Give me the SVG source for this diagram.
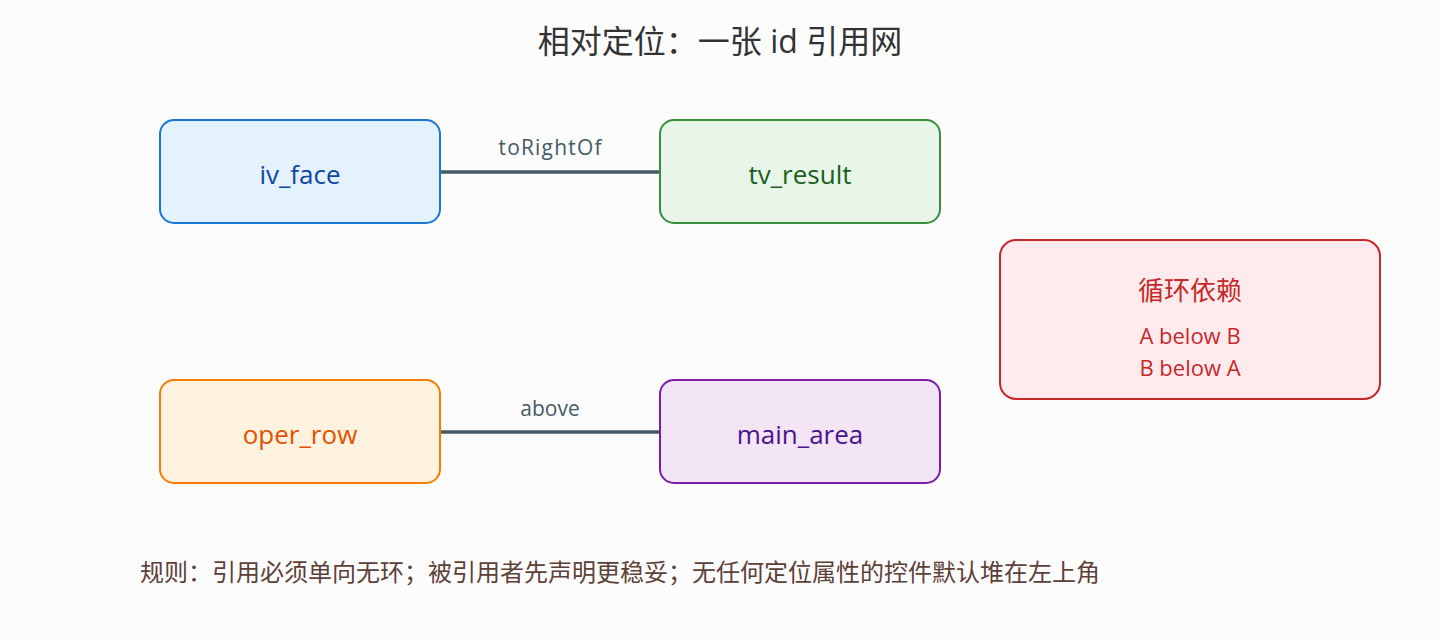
<svg xmlns="http://www.w3.org/2000/svg" width="1440" height="640" viewBox="0 0 1440 640">
<style>
text{font-family:"Open Sans","Noto Sans CJK SC",sans-serif}
.n{font-size:26px;text-anchor:middle}
.l{font-size:21px;fill:#455a64;text-anchor:middle}
.c{stroke:#455a64;stroke-width:3.5}
</style>
<rect width="1440" height="640" fill="#fcfcfc"/>
<text x="720" y="53" font-size="32" fill="#333" text-anchor="middle">相对定位：一张 id 引用网</text>
<g id="connectors">
<line class="c" x1="440" y1="172" x2="660" y2="172"/>
<text class="l" x="550" y="155" textLength="103">toRightOf</text>
<line class="c" x1="440" y1="432" x2="660" y2="432"/>
<text class="l" x="550" y="416">above</text>
</g>
<g id="iv_face"><rect x="160" y="120" width="280" height="103" rx="14" fill="#e3f2fd" stroke="#1976d2" stroke-width="2"/><text class="n" x="300" y="184" fill="#0d47a1">iv_face</text></g>
<g id="tv_result"><rect x="660" y="120" width="280" height="103" rx="14" fill="#e8f5e9" stroke="#388e3c" stroke-width="2"/><text class="n" x="800" y="184" fill="#1b5e20">tv_result</text></g>
<g id="oper_row"><rect x="160" y="380" width="280" height="103" rx="14" fill="#fff3e0" stroke="#f57c00" stroke-width="2"/><text class="n" x="300" y="444" fill="#e65100">oper_row</text></g>
<g id="main_area"><rect x="660" y="380" width="280" height="103" rx="14" fill="#f3e5f5" stroke="#7b1fa2" stroke-width="2"/><text class="n" x="800" y="444" fill="#4a148c">main_area</text></g>
<g id="cycle"><rect x="1000" y="240" width="380" height="159" rx="16" fill="#ffebee" stroke="#c62828" stroke-width="2"/>
<text class="n" x="1190" y="300" fill="#c62828">循环依赖</text>
<text x="1190" y="344" font-size="22" fill="#c62828" text-anchor="middle">A below B</text>
<text x="1190" y="376" font-size="22" fill="#c62828" text-anchor="middle">B below A</text></g>
<text x="140" y="581" font-size="24" fill="#5d4037" textLength="960">规则：引用必须单向无环；被引用者先声明更稳妥；无任何定位属性的控件默认堆在左上角</text>
</svg>
